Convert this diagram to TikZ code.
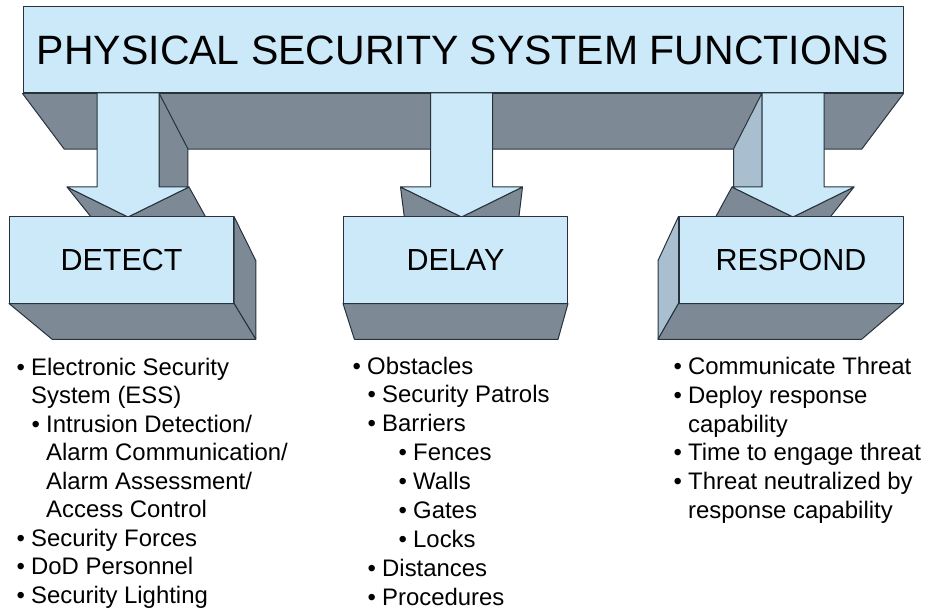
\documentclass[tikz,border=0pt]{standalone}
\usepackage{fontspec}
\setmainfont{Liberation Sans}
\usetikzlibrary{calc}
\definecolor{facelight}{HTML}{CCE9FA}
\definecolor{facedark}{HTML}{7D8A95}
\definecolor{faceside}{HTML}{A9BFCF}
\definecolor{edgecol}{HTML}{27323C}
\def\dep{0.095}
\newcommand\mkback[1]{\coordinate (#1-b) at ($(#1)!\dep!(VP)$);}
\newcommand\bul{\llap{•\hspace{6.3pt}}}
\begin{document}
\begin{tikzpicture}[x=1pt,y=-1pt,
  front/.style={fill=facelight,draw=edgecol,line width=1pt,line join=round},
  dark/.style={fill=facedark,draw=edgecol,line width=1pt,line join=round},
  lite/.style={fill=faceside,draw=edgecol,line width=1pt,line join=round},
  box/.style={front,minimum width=224pt,minimum height=86pt,inner sep=0pt,font=\fontsize{30.5}{36}\selectfont},
  item/.style={anchor=base west,inner sep=0pt,font=\fontsize{23.9}{28.5}\selectfont,text=black}]
\useasboundingbox (0,0) rectangle (925,612);
\coordinate (VP) at (463,680);

% ---- banner ----
\node[front,minimum width=880pt,minimum height=86pt,inner sep=0pt,font=\fontsize{41}{48}\selectfont] (banner) at (463,50) {PHYSICAL SECURITY SYSTEM FUNCTIONS};
\coordinate (bsw) at (banner.south west);
\coordinate (bse) at (banner.south east);
\mkback{bsw}\mkback{bse}
\draw[dark] (bsw) -- (bse) -- (bse-b) -- (bsw-b) -- cycle;

% ---- arrow coordinates ----
\foreach \n/\cx in {a1/128,a2/461.5,a3/793}{
  \coordinate (\n-stl) at (\cx-31,93);
  \coordinate (\n-str) at (\cx+31,93);
  \coordinate (\n-sbl) at (\cx-31,187);
  \coordinate (\n-sbr) at (\cx+31,187);
  \coordinate (\n-hl) at (\cx-61,187);
  \coordinate (\n-hr) at (\cx+61,187);
  \coordinate (\n-tip) at (\cx,217);
}
\mkback{a1-str}\mkback{a1-sbr}\mkback{a1-hl}\mkback{a1-hr}\mkback{a1-tip}
\mkback{a2-hl}\mkback{a2-hr}\mkback{a2-tip}
\mkback{a3-stl}\mkback{a3-sbl}\mkback{a3-hl}\mkback{a3-hr}\mkback{a3-tip}

% arrow side faces
\draw[dark] (a1-str) -- (a1-sbr) -- (a1-sbr-b) -- (a1-str-b) -- cycle;
\draw[dark] (a1-hl) -- (a1-tip) -- (a1-tip-b) -- (a1-hl-b) -- cycle;
\draw[dark] (a1-hr) -- (a1-tip) -- (a1-tip-b) -- (a1-hr-b) -- cycle;

\draw[dark] (a2-hl) -- (a2-tip) -- (a2-tip-b) -- (a2-hl-b) -- cycle;
\draw[dark] (a2-hr) -- (a2-tip) -- (a2-tip-b) -- (a2-hr-b) -- cycle;

\draw[lite] (a3-stl) -- (a3-sbl) -- (a3-sbl-b) -- (a3-stl-b) -- cycle;
\draw[dark] (a3-hl) -- (a3-tip) -- (a3-tip-b) -- (a3-hl-b) -- cycle;
\draw[dark] (a3-hr) -- (a3-tip) -- (a3-tip-b) -- (a3-hr-b) -- cycle;

% arrow fronts
\foreach \n in {a1,a2,a3}{
  \draw[front] (\n-stl) -- (\n-sbl) -- (\n-hl) -- (\n-tip) -- (\n-hr) -- (\n-sbr) -- (\n-str) -- cycle;
}

% ---- boxes ----
\node[box] (det) at (121.5,260) {DETECT};
\node[box] (del) at (455.5,260) {DELAY};
\node[box] (res) at (791,260) {RESPOND};
\foreach \n in {det,del,res}{
  \coordinate (\n-nw) at (\n.north west);
  \coordinate (\n-ne) at (\n.north east);
  \coordinate (\n-sw) at (\n.south west);
  \coordinate (\n-se) at (\n.south east);
}
\mkback{det-ne}\mkback{det-se}\mkback{det-sw}
\mkback{del-se}\mkback{del-sw}
\mkback{res-nw}\mkback{res-sw}\mkback{res-se}

\draw[dark] (det-ne) -- (det-se) -- (det-se-b) -- (det-ne-b) -- cycle;
\draw[dark] (det-sw) -- (det-se) -- (det-se-b) -- (det-sw-b) -- cycle;
\draw[dark] (del-sw) -- (del-se) -- (del-se-b) -- (del-sw-b) -- cycle;
\draw[lite] (res-nw) -- (res-sw) -- (res-sw-b) -- (res-nw-b) -- cycle;
\draw[dark] (res-sw) -- (res-se) -- (res-se-b) -- (res-sw-b) -- cycle;

% ---- lists ----
% detect
\node[item] (d1) at (31,375) {\bul Electronic Security};
\node[item] (d2) at (31,403.5) {System (ESS)};
\node[item] (d3) at (46,432) {\bul Intrusion Detection/};
\node[item] (d4) at (46,460.5) {Alarm Communication/};
\node[item] (d5) at (46,489) {Alarm Assessment/};
\node[item] (d6) at (46,517.5) {Access Control};
\node[item] (d7) at (31,546) {\bul Security Forces};
\node[item] (d8) at (31,574.5) {\bul DoD Personnel};
\node[item] (d9) at (31,603) {\bul Security Lighting};
% delay
\node[item] (e1) at (367,374) {\bul Obstacles};
\node[item] (e2) at (382,402.9) {\bul Security Patrols};
\node[item] (e3) at (382,431.8) {\bul Barriers};
\node[item] (e4) at (413,460.7) {\bul Fences};
\node[item] (e5) at (413,489.6) {\bul Walls};
\node[item] (e6) at (413,518.5) {\bul Gates};
\node[item] (e7) at (413,547.4) {\bul Locks};
\node[item] (e8) at (382,576.3) {\bul Distances};
\node[item] (e9) at (382,605.2) {\bul Procedures};
% respond
\node[item] (r1) at (688,374) {\bul Communicate Threat};
\node[item] (r2) at (688,403) {\bul Deploy response};
\node[item] (r3) at (688,432) {capability};
\node[item] (r4) at (688,460.5) {\bul Time to engage threat};
\node[item] (r5) at (688,489) {\bul Threat neutralized by};
\node[item] (r6) at (688,518) {response capability};
\end{tikzpicture}
\end{document}
